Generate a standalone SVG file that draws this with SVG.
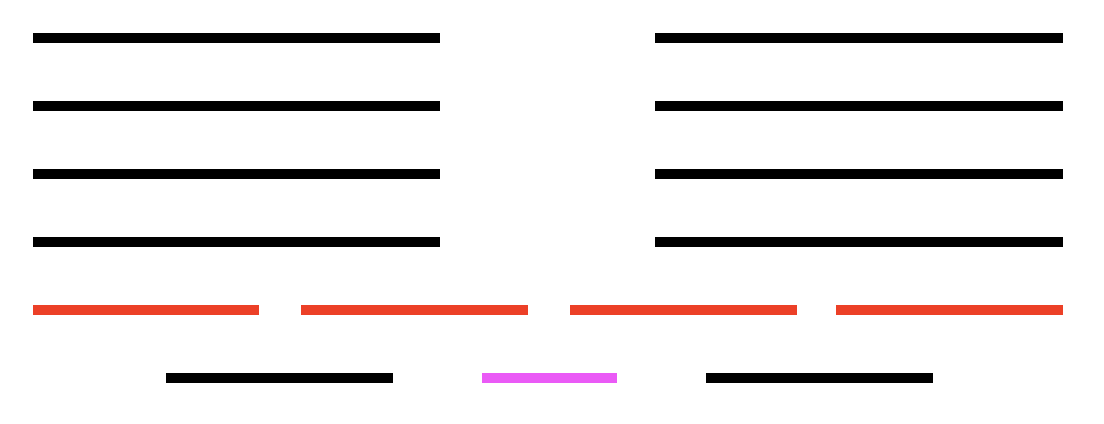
<svg xmlns="http://www.w3.org/2000/svg" width="1104" height="424" viewBox="0 0 1104 424">
<style>
.k{fill:#000}
.r{fill:#ec4027}
.m{fill:#ea5af6}
</style>
<rect width="1104" height="424" fill="#fff"/>
<g id="left-bars">
<rect class="k" x="33" y="33" width="407" height="10"/>
<rect class="k" x="33" y="101" width="407" height="10"/>
<rect class="k" x="33" y="169" width="407" height="10"/>
<rect class="k" x="33" y="237" width="407" height="10"/>
</g>
<g id="right-bars">
<rect class="k" x="655" y="33" width="408" height="10"/>
<rect class="k" x="655" y="101" width="408" height="10"/>
<rect class="k" x="655" y="169" width="408" height="10"/>
<rect class="k" x="655" y="237" width="408" height="10"/>
</g>
<g id="red-row">
<rect class="r" x="33" y="305" width="226" height="10"/>
<rect class="r" x="301" y="305" width="227" height="10"/>
<rect class="r" x="570" y="305" width="227" height="10"/>
<rect class="r" x="836" y="305" width="227" height="10"/>
</g>
<g id="bottom-row">
<rect class="k" x="166" y="373" width="227" height="10"/>
<rect class="m" x="482" y="373" width="135" height="10"/>
<rect class="k" x="706" y="373" width="227" height="10"/>
</g>
</svg>
